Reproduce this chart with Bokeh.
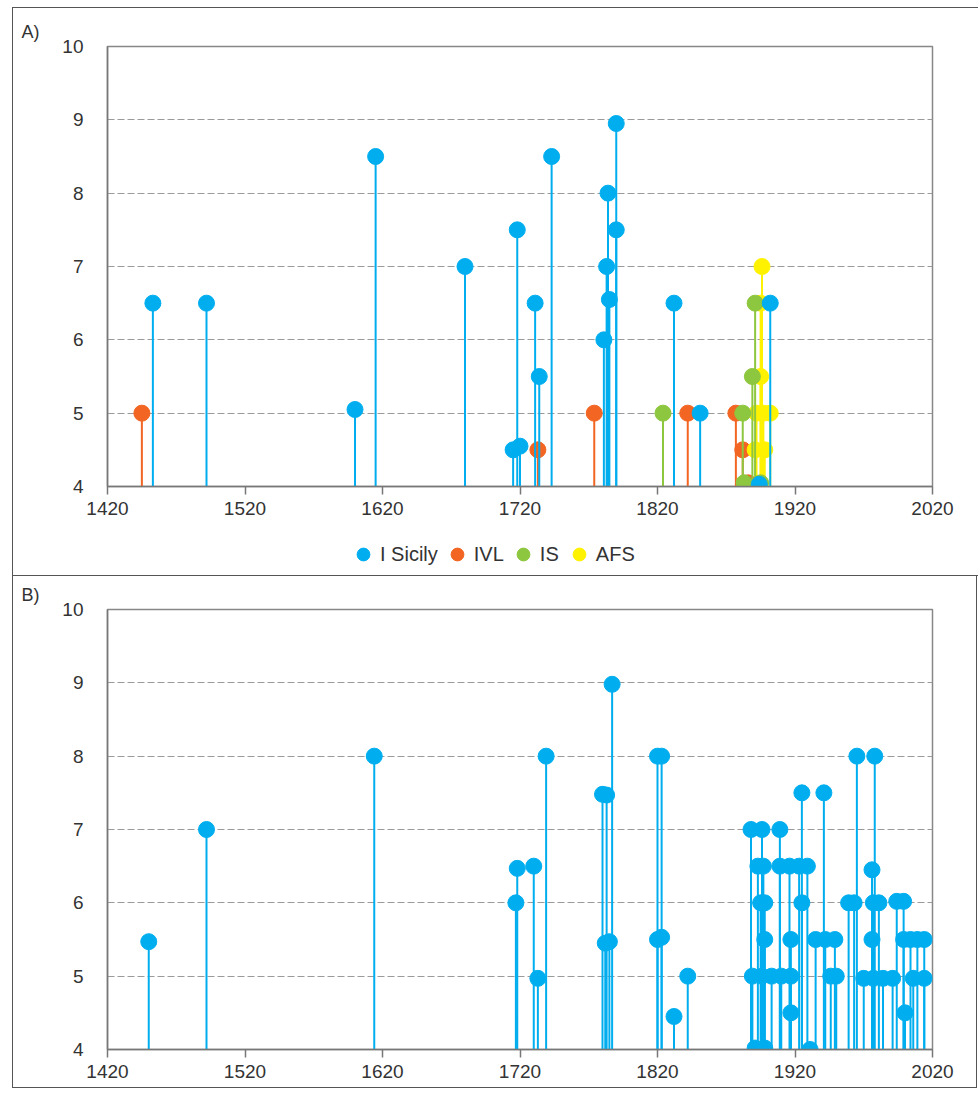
from bokeh.plotting import figure
from bokeh.models import (ColumnDataSource, Range1d, FixedTicker, Legend, LegendItem, Spacer)
from bokeh.layouts import column, row
from bokeh.embed import file_html
from bokeh.resources import INLINE

# ---------------- data ----------------
x_ticks = [1420, 1520, 1620, 1720, 1820, 1920, 2020]
y_ticks = [4, 5, 6, 7, 8, 9, 10]

# Panel A
a_sicily_years = [1453, 1492, 1600, 1615, 1680, 1715, 1720, 1718, 1731, 1734, 1743,
                  1781, 1783, 1784, 1785, 1790, 1790, 1832, 1851, 1894, 1902]
a_sicily_vals = [6.5, 6.5, 5.05, 8.5, 7.0, 4.5, 4.55, 7.5, 6.5, 5.5, 8.5,
                 6.0, 7.0, 8.0, 6.55, 8.95, 7.5, 6.5, 5.0, 4.03, 6.5]
a_ivl_years = [1445, 1733, 1774, 1842, 1877, 1882, 1886]
a_ivl_vals = [5.0, 4.5, 5.0, 5.0, 5.0, 4.5, 4.05]
a_is_years = [1824, 1882, 1883, 1889, 1891, 1895]
a_is_vals = [5.0, 5.0, 4.05, 5.5, 6.5, 4.05]
a_afs_years = [1896, 1895, 1895, 1892, 1897, 1902, 1891, 1898]
a_afs_vals = [7.0, 6.5, 5.5, 5.0, 5.0, 5.0, 4.5, 4.5]

# Panel B (I Sicily only)
b_years = [1450, 1492, 1614, 1717, 1718, 1730, 1733, 1739,
           1780, 1783, 1782, 1785, 1787, 1820, 1823, 1820, 1823, 1832, 1842,
           1888, 1896, 1909,
           1893, 1897, 1909, 1916, 1923, 1929,
           1895, 1898, 1925,
           1898, 1917, 1935, 1942, 1949,
           1889, 1896, 1903, 1910, 1917, 1946, 1950,
           1917,
           1891, 1898, 1931,
           1925, 1941,
           1965, 1978,
           1976,
           1959, 1963, 1977, 1981, 1994, 1999,
           1976, 1999, 2004, 2009, 2014,
           1970, 1977, 1984, 1991, 2006, 2014,
           2000]
b_vals = [5.47, 7.0, 8.0, 6.0, 6.47, 6.5, 4.97, 8.0,
          7.48, 7.47, 5.45, 5.47, 8.98, 8.0, 8.0, 5.5, 5.53, 4.45, 5.0,
          7.0, 7.0, 7.0,
          6.5, 6.5, 6.5, 6.5, 6.5, 6.5,
          6.0, 6.0, 6.0,
          5.5, 5.5, 5.5, 5.5, 5.5,
          5.0, 5.0, 5.0, 5.0, 5.0, 5.0, 5.0,
          4.5,
          4.02, 4.02, 4.0,
          7.5, 7.5,
          8.0, 8.0,
          6.45,
          6.0, 6.0, 6.0, 6.0, 6.02, 6.02,
          5.5, 5.5, 5.5, 5.5, 5.5,
          4.97, 4.97, 4.97, 4.97, 4.97, 4.97,
          4.5]

series_names = ["I Sicily", "IVL", "IS", "AFS"]
series_colors = {"I Sicily": "#00AEEF", "IVL": "#F26522", "IS": "#8DC63F", "AFS": "#FFF200"}

FONT = "Liberation Sans"
TXT = "#333333"
BORDER = "1.5px solid #555555"


def make_panel(height, top, bottom, tag, styles=None):
    kw = {}
    if styles:
        kw["styles"] = styles
    p = figure(width=965, height=height, output_backend="svg", toolbar_location=None,
               x_range=Range1d(1420, 2020), y_range=Range1d(4, 10),
               min_border_left=94, min_border_right=46, min_border_top=top, min_border_bottom=bottom,
               **kw)
    p.title.text = tag
    p.title.align = "left"
    p.title.offset = -86
    p.title.text_font = FONT
    p.title.text_font_size = "18px"
    p.title.text_font_style = "normal"
    p.title.text_color = TXT
    p.outline_line_color = "#888888"
    p.outline_line_width = 1.5
    p.xgrid.grid_line_color = None
    p.ygrid.grid_line_color = "#9a9a9a"
    p.ygrid.grid_line_dash = "7 3"
    p.ygrid.grid_line_width = 1.2
    p.xaxis.ticker = FixedTicker(ticks=x_ticks)
    p.yaxis.ticker = FixedTicker(ticks=y_ticks)
    for ax in (p.xaxis[0], p.yaxis[0]):
        ax.axis_line_color = "#777777"
        ax.axis_line_width = 1.5
        ax.major_label_text_font = FONT
        ax.major_label_text_font_size = "19px"
        ax.major_label_text_color = TXT
        ax.minor_tick_line_color = None
    p.xaxis.major_tick_in = 0
    p.xaxis.major_tick_out = 8
    p.xaxis.major_tick_line_color = "#777777"
    p.xaxis.major_tick_line_width = 1.5
    p.xaxis.major_label_standoff = 7
    p.yaxis.major_tick_line_color = None
    p.yaxis.major_tick_in = 0
    p.yaxis.major_tick_out = 0
    p.yaxis.major_label_standoff = 24
    return p


def stems(p, years, vals, color):
    src = ColumnDataSource(dict(x=years, y=vals, y0=[4] * len(years)))
    p.segment(x0="x", y0="y0", x1="x", y1="y", source=src, line_color=color, line_width=2)
    r = p.scatter(x="x", y="y", source=src, size=16, fill_color=color, line_color=color)
    return r


# ---- Panel A ----
pA = make_panel(518, 38, 40, "A)")
stems(pA, a_ivl_years, a_ivl_vals, series_colors["IVL"])
stems(pA, a_afs_years, a_afs_vals, series_colors["AFS"])
stems(pA, a_is_years, a_is_vals, series_colors["IS"])
stems(pA, a_sicily_years, a_sicily_vals, series_colors["I Sicily"])

# legend strip under panel A (key glyphs only; their single point lies outside the view)
legA = figure(width=965, height=49, output_backend="svg", toolbar_location=None,
              x_range=Range1d(0, 1), y_range=Range1d(0, 1),
              x_axis_location=None, y_axis_location=None,
              min_border_left=0, min_border_right=0, min_border_top=0, min_border_bottom=0)
legA.grid.grid_line_color = None
legA.outline_line_color = None
leg_renderers = {}
for n in series_names:
    leg_renderers[n] = legA.scatter(x=[-50], y=[-50], size=15, fill_color=series_colors[n],
                                    line_color=series_colors[n])
legend = Legend(items=[LegendItem(label=n, renderers=[leg_renderers[n]]) for n in series_names],
                orientation="horizontal", location=(240, 5),
                border_line_alpha=0, background_fill_alpha=0,
                label_text_font=FONT, label_text_font_size="20px", label_text_color=TXT,
                glyph_width=32, glyph_height=32, spacing=3, label_standoff=1, padding=0, margin=0)
legA.add_layout(legend, "center")

panelA = column(pA, legA, styles={"border": BORDER})

# ---- Panel B ----
pB = make_panel(512, 33, 39, "B)",
                styles={"border": BORDER, "border-top": "none", "box-sizing": "border-box"})
stems(pB, b_years, b_vals, series_colors["I Sicily"])

layout = column(Spacer(height=7), row(Spacer(width=12), column(panelA, pB, spacing=0)), spacing=0)
open("out.html", "w").write(file_html(layout, INLINE))
